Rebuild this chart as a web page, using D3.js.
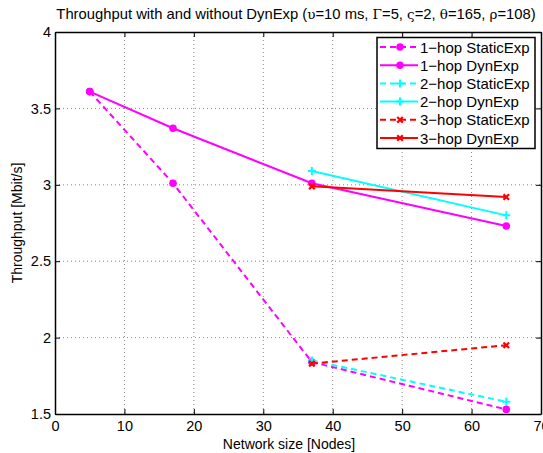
<!DOCTYPE html>
<html><head><meta charset="utf-8">
<script src="https://cdn.jsdelivr.net/npm/d3@7"></script>
<style>body{margin:0;background:#fff;overflow:hidden}svg{display:block}text{font-family:"Liberation Sans",Arial,sans-serif}</style>
</head><body>
<script>
const xTicks = [0,10,20,30,40,50,60,70];
const yTicks = [1.5,2,2.5,3,3.5,4];
const xOneHop = [5,17,37,65];
const xMulti = [37,65];
const oneHopStatic = [3.61,3.01,1.84,1.53];
const oneHopDyn = [3.61,3.37,3.01,2.73];
const twoHopStatic = [1.85,1.58];
const twoHopDyn = [3.09,2.80];
const threeHopStatic = [1.83,1.95];
const threeHopDyn = [2.99,2.92];
const seriesNames = ["1\u2212hop StaticExp","1\u2212hop DynExp","2\u2212hop StaticExp","2\u2212hop DynExp","3\u2212hop StaticExp","3\u2212hop DynExp"];

const series = [
  {name:seriesNames[0], xs:xOneHop, ys:oneHopStatic, color:"#ff00ff", dash:true, marker:"circle"},
  {name:seriesNames[1], xs:xOneHop, ys:oneHopDyn, color:"#ff00ff", dash:false, marker:"circle"},
  {name:seriesNames[2], xs:xMulti, ys:twoHopStatic, color:"#00ffff", dash:true, marker:"plus"},
  {name:seriesNames[3], xs:xMulti, ys:twoHopDyn, color:"#00ffff", dash:false, marker:"plus"},
  {name:seriesNames[4], xs:xMulti, ys:threeHopStatic, color:"#ff0000", dash:true, marker:"cross"},
  {name:seriesNames[5], xs:xMulti, ys:threeHopDyn, color:"#ff0000", dash:false, marker:"cross"}
];

const W=543,H=453, L=55, R=541, T=32, B=414;
const svg=d3.select("body").append("svg").attr("width",W).attr("height",H);
const x=d3.scaleLinear().domain([0,70]).range([L,R]);
const y=d3.scaleLinear().domain([1.5,4]).range([B,T]);

// grid
const g=svg.append("g");
g.selectAll(".gx").data(xTicks.slice(1,-1)).enter().append("line")
 .attr("x1",d=>x(d)).attr("x2",d=>x(d)).attr("y1",T).attr("y2",B)
 .attr("stroke","#555").attr("stroke-width",0.7).attr("stroke-dasharray","1,3");
g.selectAll(".gy").data(yTicks.slice(1,-1)).enter().append("line")
 .attr("y1",d=>y(d)).attr("y2",d=>y(d)).attr("x1",L).attr("x2",R)
 .attr("stroke","#555").attr("stroke-width",0.7).attr("stroke-dasharray","1,3");

// axes
svg.append("g").attr("transform",`translate(0,${B})`)
 .call(d3.axisBottom(x).tickValues(xTicks).tickSizeInner(-5).tickSizeOuter(0).tickPadding(7));
svg.append("g").attr("transform",`translate(${L},0)`)
 .call(d3.axisLeft(y).tickValues(yTicks).tickFormat(d3.format("")).tickSizeInner(-5).tickSizeOuter(0).tickPadding(4));
svg.append("g").attr("transform",`translate(0,${T})`)
 .call(d3.axisTop(x).tickValues(xTicks).tickSizeInner(-5).tickSizeOuter(0).tickFormat(""));
svg.append("g").attr("transform",`translate(${R},0)`)
 .call(d3.axisRight(y).tickValues(yTicks).tickSizeInner(-5).tickSizeOuter(0).tickFormat(""));
svg.selectAll(".domain").attr("stroke","#000").attr("stroke-width",1.5);
svg.selectAll(".tick line").attr("stroke","#000");
svg.selectAll(".tick text").attr("font-size",14.5).attr("fill","#000");

// lines
const line=d3.line().x(d=>x(d[0])).y(d=>y(d[1]));
function marker(sel,type,color,cx,cy){
  if(type==="circle") sel.append("circle").attr("cx",cx).attr("cy",cy).attr("r",3.8).attr("fill",color);
  else if(type==="plus") sel.append("path").attr("d",`M${cx-4},${cy}H${cx+4}M${cx},${cy-4}V${cy+4}`).attr("stroke",color).attr("stroke-width",2);
  else sel.append("path").attr("d",`M${cx-2.8},${cy-2.8}L${cx+2.8},${cy+2.8}M${cx-2.8},${cy+2.8}L${cx+2.8},${cy-2.8}`).attr("stroke",color).attr("stroke-width",2.2);
}
const plot=svg.append("g");
series.forEach(s=>{
  const pts=s.xs.map((v,i)=>[v,s.ys[i]]);
  plot.append("path").attr("d",line(pts)).attr("fill","none").attr("stroke",s.color)
   .attr("stroke-width",2).attr("stroke-dasharray",s.dash?"6,4":null);
  pts.forEach(p=>marker(plot,s.marker,s.color,x(p[0]),y(p[1])));
});

// legend
const lg=svg.append("g");
lg.append("rect").attr("x",377).attr("y",37.5).attr("width",158).attr("height",111)
 .attr("fill","#fff").attr("stroke","#000").attr("stroke-width",1.5);
series.forEach((s,i)=>{
  const yy=47+i*18.2;
  lg.append("line").attr("x1",380).attr("x2",418).attr("y1",yy).attr("y2",yy)
   .attr("stroke",s.color).attr("stroke-width",2).attr("stroke-dasharray",s.dash?"6,4":null);
  marker(lg,s.marker,s.color,400,yy);
  lg.append("text").attr("x",420).attr("y",yy+5.5).attr("font-size",15).text(s.name);
});

// labels
svg.append("text").attr("x",(L+R)/2 - 9).attr("y",449).attr("text-anchor","middle").attr("font-size",14).text("Network size [Nodes]");
svg.append("text").attr("transform",`translate(22,${(T+B)/2}) rotate(-90)`).attr("text-anchor","middle").attr("font-size",14).text("Throughput [Mbit/s]");
const t=svg.append("text").attr("x",296).attr("y",19).attr("text-anchor","middle").attr("font-size",14.8);
const parts=[["Throughput with and without DynExp (",0],["\u03C5",1],["=10 ms, ",0],["\u0393",1],["=5, ",0],["\u03C2",1],["=2, ",0],["\u03B8",1],["=165, ",0],["\u03C1",1],["=108)",0]];
parts.forEach(p=>t.append("tspan").text(p[0]).attr("font-family",p[1]?"'DejaVu Serif','Liberation Serif',serif":null).attr("font-size",p[1]?13.5:null));
</script>
</body></html>
